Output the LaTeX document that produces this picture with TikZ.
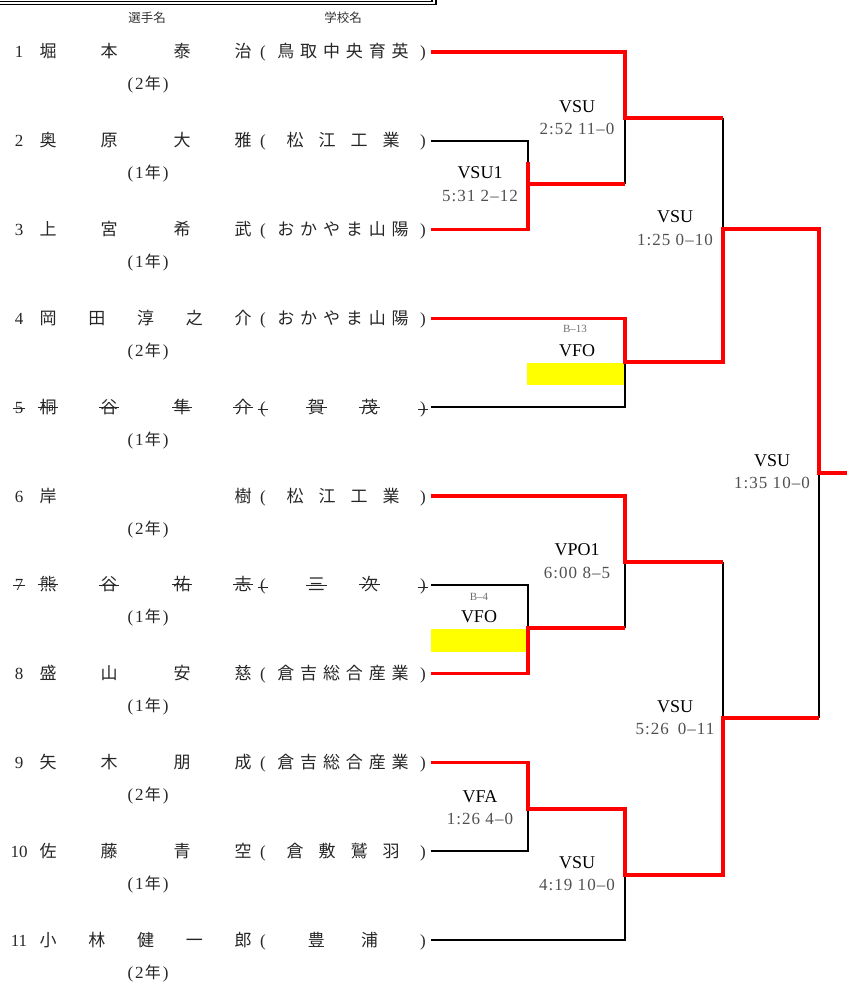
\documentclass[tikz,border=0pt]{standalone}
\usepackage{fontspec}
\setmainfont{Liberation Serif}
\newfontfamily\cjk{Noto Sans CJK JP}
\newfontfamily\scorefont{Liberation Serif}[LetterSpace=6]
\definecolor{bred}{RGB}{255,0,0}
\definecolor{byellow}{RGB}{255,255,0}
\definecolor{scoregray}{RGB}{80,80,80}
\definecolor{bgray}{RGB}{110,110,110}
\tikzset{
  cj/.style={font=\cjk\fontsize{17}{18}\selectfont, inner sep=0pt, anchor=base, text=black!85},
  hd/.style={font=\cjk\fontsize{12.5}{14}\selectfont, inner sep=0pt, text=black!80},
  sr/.style={font=\fontsize{17}{18}\selectfont, inner sep=0pt, anchor=base, text=black!85},
  yr/.style={font=\fontsize{17}{18}\selectfont, inner sep=0pt, anchor=base, text=black!85},
  strk/.style={append after command={\pgfextra{\let\mainnode=\tikzlastnode}
      ([xshift=-1.5pt,yshift=-0.5pt]\mainnode.west) edge[draw=black!85, line width=1pt] ([xshift=1.5pt,yshift=-0.5pt]\mainnode.east)}},
  lab/.style={font=\fontsize{18}{18}\selectfont, inner sep=0pt},
  scr/.style={font=\scorefont\fontsize{17}{18}\selectfont, inner sep=0pt, text=scoregray},
  bno/.style={font=\fontsize{11}{11}\selectfont, inner sep=0pt, text=bgray},
  win/.style={draw=bred, line width=3.3pt},
  lose/.style={draw=black, line width=1.9pt},
  hl/.style={fill=byellow, draw=none},
  frame/.style={draw=black, line width=1.5pt}
}
\newcommand\player[6]{%
  \pgfmathsetmacro\ry{52+(#1-1)*88.8}%
  \pgfmathsetmacro\rb{\ry+6}%
  \node[sr,#2] (num#1) at (19,\rb) {#6};
  \foreach \ch/\xx [count=\k] in {#3} {\node[cj,#2] (nm#1-\k) at (\xx,\rb) {\ch};}
  \node[sr,#2] (lp#1) at (263,\rb) {(};
  \node[sr,#2] (rp#1) at (423,\rb) {)};
  \foreach \ch [count=\k] in {#4} {\xdef\nsc{\k}}
  \foreach \ch [count=\k] in {#4} {%
    \pgfmathsetmacro\sx{263+\k*160/(\nsc+1)}%
    \node[cj,#2] (sc#1-\k) at (\sx,\rb) {\ch};}
  \node[yr] (yr#1) at (148,\ry+38) {(\hspace{2pt}#5\hspace{1pt}{\cjk\fontsize{16}{18}\selectfont 年}\hspace{2pt})};
  \coordinate (e#1) at (431,\ry);
}
\begin{document}
\begin{tikzpicture}[x=1pt,y=-1pt]
\useasboundingbox (0,0) rectangle (846,984);
% top frame
\coordinate (f1) at (0,1.5);  \coordinate (f2) at (432,1.5); \coordinate (f3) at (432,-2);
\coordinate (g1) at (0,4.6);  \coordinate (g2) at (436,4.6); \coordinate (g3) at (436,-2);
\draw[frame] (f1) -- (f2) -- (f3);
\draw[frame] (g1) -- (g2) -- (g3);
% headers
\node[hd] (h1) at (147,18) {選手名};
\node[hd] (h2) at (343,18) {学校名};
% players
\player{1}{}{堀/48,本/109,泰/182,治/243}{鳥,取,中,央,育,英}{2}{1}
\player{2}{}{奥/48,原/109,大/182,雅/243}{松,江,工,業}{1}{2}
\player{3}{}{上/48,宮/109,希/182,武/243}{お,か,や,ま,山,陽}{1}{3}
\player{4}{}{岡/48,田/96.75,淳/145.5,之/194.25,介/243}{お,か,や,ま,山,陽}{2}{4}
\player{5}{strk}{桐/48,谷/109,隼/182,介/243}{賀,茂}{1}{5}
\player{6}{}{岸/48,樹/243}{松,江,工,業}{2}{6}
\player{7}{strk}{熊/48,谷/109,祐/182,志/243}{三,次}{1}{7}
\player{8}{}{盛/48,山/109,安/182,慈/243}{倉,吉,総,合,産,業}{1}{8}
\player{9}{}{矢/48,木/109,朋/182,成/243}{倉,吉,総,合,産,業}{2}{9}
\player{10}{}{佐/48,藤/109,青/182,空/243}{倉,敷,鷲,羽}{1}{10}
\player{11}{}{小/48,林/96.75,健/145.5,一/194.25,郎/243}{豊,浦}{2}{11}
% junctions
\coordinate (jA) at (528,184);
\coordinate (jAk) at (528,162);
\coordinate (jB) at (625,118);
\coordinate (jC) at (625,362);
\coordinate (jD) at (723,229);
\coordinate (jE) at (625,562);
\coordinate (jF) at (528,628);
\coordinate (jG) at (528,809);
\coordinate (jH) at (625,875);
\coordinate (jI) at (723,718);
\coordinate (jZ) at (819,473);
\coordinate (champ) at (847,473);
% highlight boxes
\path[hl] (527,363) rectangle (624,385);
\path[hl] (431,629) rectangle (527,652);
% losing lines
\draw[lose] (e2) -| (jAk);
\draw[lose] (e5) -| (jC);
\draw[lose] (e7) -| (jF);
\draw[lose] (e10) -| (jG);
\draw[lose] (e11) -| (jH);
\draw[lose] (jB) -- (jA -| jB);
\draw[lose] (jB -| jD) -- (jD);
\draw[lose] (jF -| jE) -- (jE);
\draw[lose] (jE -| jI) -- (jI);
\draw[lose] (jI -| jZ) -- (jZ);
% winning lines
\draw[win] (e1) -| (jB) -- (jB -| jD);
\draw[win] (e3) -| (jAk);
\draw[win] (jA) -- (jA -| jB);
\draw[win] (e4) -| (jC) -| (jD) -| (jZ) -- (champ);
\draw[win] (e6) -| (jE) -- (jE -| jI);
\draw[win] (e8) -| (jF) -- (jF -| jE);
\draw[win] (e9) -| (jG) -| (jH) -| (jI) -- (jI -| jZ);
% labels
\node[lab] (lA) at (480,173) {VSU1};
\node[scr] (sA) at (480,196) {5:31 2–12};
\node[lab] (lB) at (577,107) {VSU};
\node[scr] (sB) at (577,129) {2:52 11–0};
\node[lab] (lD) at (675,217) {VSU};
\node[scr] (sD) at (675,240) {1:25 0–10};
\node[bno] (bC) at (575,329) {B–13};
\node[lab] (lC) at (577,351) {VFO};
\node[lab] (lZ) at (772,461) {VSU};
\node[scr] (sZ) at (772,483) {1:35 10–0};
\node[lab] (lE) at (577,550) {VPO1};
\node[scr] (sE) at (577,573) {6:00 8–5};
\node[bno] (bF) at (479,597) {B–4};
\node[lab] (lF) at (479,617) {VFO};
\node[lab] (lI) at (675,707) {VSU};
\node[scr] (sI) at (675,729) {5:26\hspace{9pt}0–11};
\node[lab] (lG) at (480,797) {VFA};
\node[scr] (sG) at (480,819) {1:26 4–0};
\node[lab] (lH) at (577,863) {VSU};
\node[scr] (sH) at (577,885) {4:19 10–0};
\end{tikzpicture}
\end{document}
